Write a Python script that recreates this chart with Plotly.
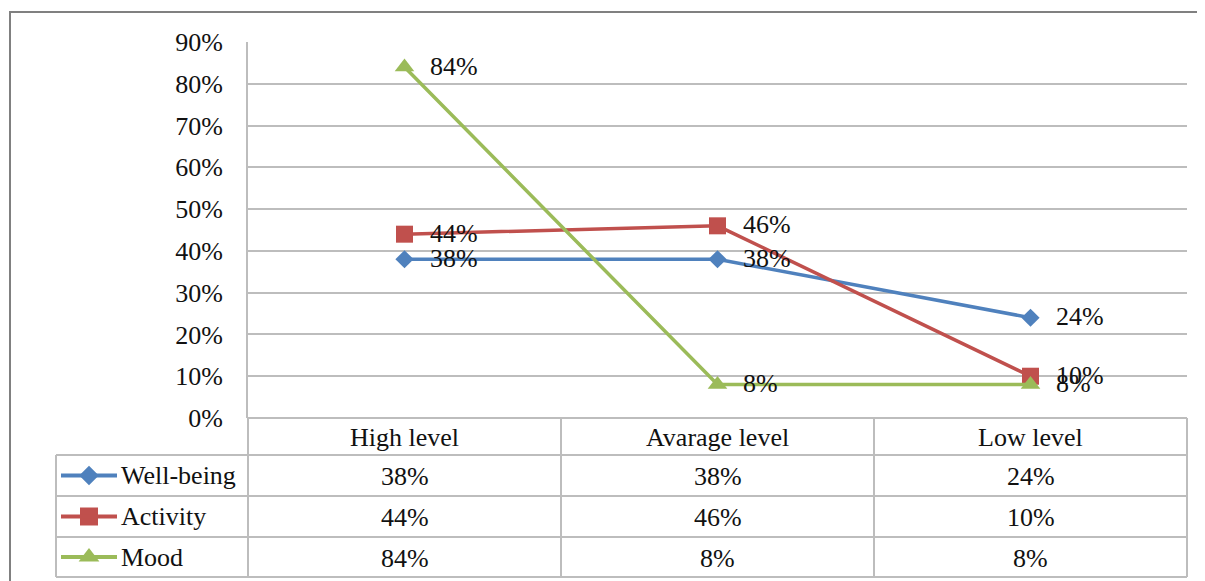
import plotly.graph_objects as go

categories = ["High level", "Avarage level", "Low level"]
series_names = ["Well-being", "Activity", "Mood"]
well_being = [0.38, 0.38, 0.24]
activity = [0.44, 0.46, 0.10]
mood = [0.84, 0.08, 0.08]
y_ticks = [0, 0.1, 0.2, 0.3, 0.4, 0.5, 0.6, 0.7, 0.8, 0.9]

series_values = [well_being, activity, mood]
colors = ["#4F81BD", "#C0504D", "#9BBB59"]
symbols = ["diamond", "square", "triangle-up"]
msizes = [14, 17, 17]

# page has an 8px body margin; figure is sized to fit the window
OFF = 8
W, H = 1205 - OFF, 581 - OFF
FONT = "'Times New Roman', 'Liberation Serif', serif"
FS = 26
GRID = "#BDBDBD"
TXT = "#111111"

# layout in window pixels
PL, PR, PT, PB = 248, 1187, 42, 418
row_y = [418, 455, 496, 537, 577]
col_x = [248, 561, 874, 1187]
TL = 56


def dx(px):
    return (px - OFF) / W


def dy(py):
    return 1 - (py - OFF) / H


fig = go.Figure()

for name, vals, c, s, ms in zip(series_names, series_values, colors, symbols, msizes):
    fig.add_trace(go.Scatter(
        x=categories, y=vals, mode="lines+markers", name=name,
        line=dict(color=c, width=3.5),
        marker=dict(symbol=s, size=ms, color=c, opacity=1, line=dict(width=0)),
        xaxis="x", yaxis="y", showlegend=False,
    ))

annotations = []
for vals in series_values:
    for cat, v in zip(categories, vals):
        annotations.append(dict(
            x=cat, y=v, xref="x", yref="y", text=f"{round(v*100)}%",
            showarrow=False, xanchor="left", yanchor="middle", xshift=23, yshift=1,
            font=dict(family=FONT, size=FS, color=TXT),
        ))

shapes = []
# outer border
shapes.append(dict(type="rect", xref="x2", yref="y2", x0=10, y0=12, x1=1230, y1=620,
                   line=dict(color="#808080", width=2)))
# table lines
for i, y in enumerate(row_y):
    x0 = PL if i == 0 else TL
    shapes.append(dict(type="line", xref="x2", yref="y2", x0=x0, x1=PR, y0=y, y1=y,
                       line=dict(color=GRID, width=2)))
for x in col_x:
    shapes.append(dict(type="line", xref="x2", yref="y2", x0=x, x1=x, y0=row_y[0], y1=row_y[-1],
                       line=dict(color=GRID, width=2)))
shapes.append(dict(type="line", xref="x2", yref="y2", x0=TL, x1=TL, y0=row_y[1], y1=row_y[-1],
                   line=dict(color=GRID, width=2)))

# header texts
for j, cat in enumerate(categories):
    annotations.append(dict(
        x=(col_x[j] + col_x[j+1]) / 2, y=(row_y[0] + row_y[1]) / 2 + 1, xref="x2", yref="y2",
        text=cat, showarrow=False, xanchor="center", yanchor="middle",
        font=dict(family=FONT, size=FS, color=TXT)))
# rows
for i, (name, vals, c, s, ms) in enumerate(zip(series_names, series_values, colors, symbols, msizes)):
    yc = (row_y[i+1] + row_y[i+2]) / 2
    annotations.append(dict(
        x=119, y=yc, xref="x2", yref="y2", text=name, showarrow=False,
        xanchor="left", yanchor="middle", font=dict(family=FONT, size=FS, color=TXT)))
    # legend key: line + marker
    shapes.append(dict(type="line", xref="x2", yref="y2", x0=61, x1=117, y0=yc, y1=yc,
                       line=dict(color=c, width=4)))
    fig.add_trace(go.Scatter(
        x=[89], y=[yc], mode="markers", xaxis="x2", yaxis="y2",
        marker=dict(symbol=s, size=ms + 1, color=c, opacity=1, line=dict(width=0)),
        showlegend=False, hoverinfo="skip"))
    for j, v in enumerate(vals):
        annotations.append(dict(
            x=(col_x[j] + col_x[j+1]) / 2, y=yc + 1, xref="x2", yref="y2",
            text=f"{round(v*100)}%", showarrow=False, xanchor="center", yanchor="middle",
            font=dict(family=FONT, size=FS, color=TXT)))

fig.update_layout(
    width=W, height=H,
    margin=dict(l=0, r=0, t=0, b=0, autoexpand=False),
    paper_bgcolor="white", plot_bgcolor="rgba(0,0,0,0)",
    font=dict(family=FONT, size=FS, color=TXT),
    xaxis=dict(domain=[dx(PL), dx(PR)], range=[-0.5, 2.5], showticklabels=False,
               showgrid=False, zeroline=False, showline=False, fixedrange=True,
               automargin=False),
    yaxis=dict(domain=[dy(PB), dy(PT)], range=[0, 0.9], tickvals=y_ticks,
               tickformat=".0%", showgrid=True, gridcolor=GRID, gridwidth=2,
               zeroline=False, showline=True, linecolor=GRID, linewidth=2,
               ticks="", ticklabelstandoff=18, automargin=False, fixedrange=True,
               tickfont=dict(family=FONT, size=FS, color=TXT)),
    xaxis2=dict(domain=[0, 1], range=[OFF, OFF + W], visible=False, anchor="y2",
                fixedrange=True, automargin=False),
    yaxis2=dict(domain=[0, 1], range=[OFF + H, OFF], visible=False, anchor="x2",
                fixedrange=True, automargin=False),
    shapes=shapes, annotations=annotations,
)

fig.write_html("out.html")
